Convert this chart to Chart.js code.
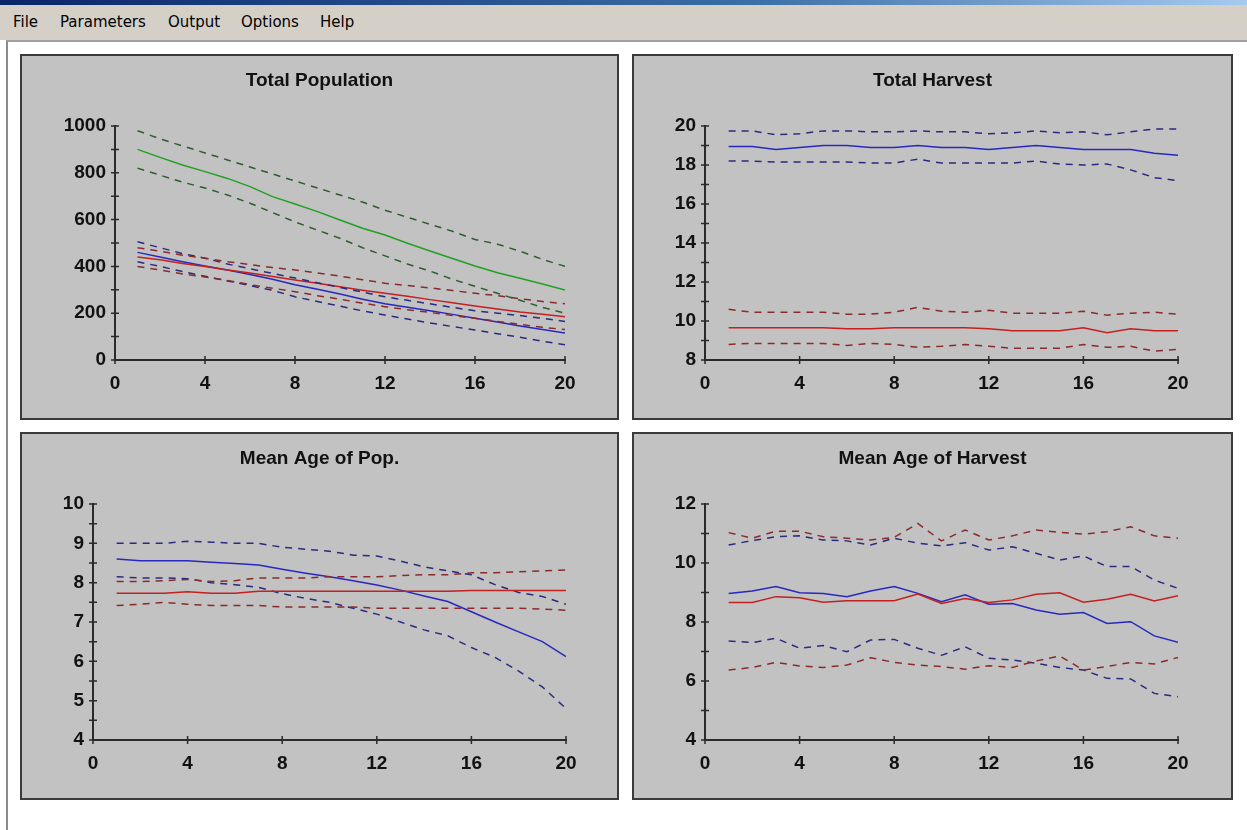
<!DOCTYPE html>
<html>
<head>
<meta charset="utf-8">
<script src="https://cdn.jsdelivr.net/npm/chart.js@4/dist/chart.umd.min.js"></script>
<style>
body { margin: 0; width: 1247px; height: 830px; background: #fff; position: relative; overflow: hidden; font-family: "DejaVu Sans", sans-serif; }
#titlebar { position: absolute; left: 0; top: 0; width: 1247px; height: 5px; background: linear-gradient(to right, #0a246a, #3a6ea5 60%, #a6caf0); }
#menu { position: absolute; left: 0; top: 5px; width: 1247px; height: 35px; background: #d4d0c8; }
#menu span { position: absolute; top: 8px; font-size: 15px; color: #000; }
#client { position: absolute; left: 6px; top: 40px; right: 0; bottom: 0; border-left: 2px solid #8c8c8c; border-top: 2px solid #a0a0a0; background: #fff; }
.panel { position: absolute; box-sizing: border-box; border: 2px solid #3a3a3a; background: #c2c2c2; }
.panel canvas { position: absolute; left: 0; top: 0; }
</style>
</head>
<body>
<div id="titlebar"></div>
<div id="menu">
  <span style="left:13px">File</span>
  <span style="left:60px">Parameters</span>
  <span style="left:168px">Output</span>
  <span style="left:241px">Options</span>
  <span style="left:320px">Help</span>
</div>
<div id="client"></div>

<div class="panel" style="left:20px;top:54px;width:599px;height:366px"><canvas id="c1" width="595" height="362"></canvas></div>
<div class="panel" style="left:632px;top:54px;width:601px;height:366px"><canvas id="c2" width="597" height="362"></canvas></div>
<div class="panel" style="left:20px;top:432px;width:599px;height:368px"><canvas id="c3" width="595" height="364"></canvas></div>
<div class="panel" style="left:632px;top:432px;width:601px;height:368px"><canvas id="c4" width="597" height="364"></canvas></div>

<script>
// years on the x axis
const years = [1,2,3,4,5,6,7,8,9,10,11,12,13,14,15,16,17,18,19,20];

// Total Population
const totPopGreen    = [900,866,833,805,776,741,698,667,634,598,563,534,499,466,434,402,373,349,325,299];
const totPopGreenUp  = [980,945,915,885,855,825,795,765,735,705,675,640,610,580,550,515,495,465,430,400];
const totPopGreenLow = [820,790,760,735,705,670,630,590,555,520,480,445,410,380,345,315,285,255,225,200];
const totPopRed      = [440,428,412,400,385,372,357,342,328,313,298,285,272,258,245,231,218,205,195,185];
const totPopRedUp    = [480,465,448,435,420,408,395,385,372,358,343,328,318,308,297,285,275,262,250,240];
const totPopRedLow   = [400,385,368,355,340,322,307,292,275,260,243,228,215,203,190,178,165,152,140,130];
const totPopBlue     = [460,440,420,402,385,365,345,322,302,282,260,240,225,210,195,178,162,145,130,115];
const totPopBlueUp   = [505,480,455,435,410,390,370,350,330,310,290,270,255,240,225,210,200,190,178,165];
const totPopBlueLow  = [420,400,378,358,338,318,298,270,250,230,210,192,175,158,143,128,112,97,80,65];

// Total Harvest
const harvBlue    = [18.95,18.95,18.8,18.9,19.0,19.0,18.9,18.9,19.0,18.9,18.9,18.8,18.9,19.0,18.9,18.8,18.8,18.8,18.6,18.5];
const harvBlueUp  = [19.75,19.75,19.55,19.6,19.75,19.75,19.7,19.7,19.75,19.7,19.7,19.6,19.65,19.75,19.65,19.7,19.55,19.7,19.85,19.85];
const harvBlueLow = [18.2,18.2,18.15,18.15,18.15,18.15,18.1,18.1,18.3,18.1,18.1,18.1,18.1,18.2,18.05,18.0,18.05,17.75,17.35,17.2];
const harvRed     = [9.65,9.65,9.65,9.65,9.65,9.6,9.6,9.65,9.65,9.65,9.65,9.6,9.5,9.5,9.5,9.65,9.4,9.6,9.5,9.5];
const harvRedUp   = [10.6,10.45,10.45,10.45,10.45,10.35,10.35,10.45,10.7,10.5,10.45,10.55,10.4,10.4,10.4,10.5,10.3,10.4,10.45,10.35];
const harvRedLow  = [8.8,8.85,8.85,8.85,8.85,8.75,8.85,8.8,8.65,8.7,8.8,8.7,8.6,8.6,8.6,8.8,8.65,8.7,8.45,8.55];

// Mean Age of Pop.
const agePopBlue    = [8.6,8.56,8.56,8.56,8.52,8.49,8.45,8.34,8.24,8.15,8.05,7.94,7.81,7.66,7.52,7.26,7.0,6.75,6.5,6.12];
const agePopBlueUp  = [9.0,9.0,9.0,9.05,9.03,9.0,9.0,8.9,8.85,8.8,8.7,8.68,8.55,8.4,8.3,8.2,7.95,7.75,7.65,7.45];
const agePopBlueLow = [8.15,8.12,8.12,8.1,8.0,7.95,7.88,7.72,7.6,7.5,7.35,7.2,7.0,6.8,6.65,6.35,6.1,5.75,5.35,4.8];
const agePopRed     = [7.73,7.73,7.73,7.77,7.73,7.73,7.78,7.78,7.78,7.78,7.78,7.78,7.78,7.78,7.78,7.8,7.8,7.8,7.8,7.8];
const agePopRedUp   = [8.03,8.03,8.05,8.08,8.03,8.05,8.12,8.12,8.12,8.15,8.15,8.15,8.18,8.2,8.2,8.25,8.25,8.28,8.3,8.32];
const agePopRedLow  = [7.42,7.45,7.5,7.45,7.42,7.42,7.42,7.38,7.38,7.38,7.38,7.35,7.35,7.35,7.35,7.35,7.35,7.35,7.33,7.3];

// Mean Age of Harvest
const ageHarvBlue    = [8.97,9.05,9.2,8.99,8.97,8.86,9.05,9.2,8.97,8.69,8.92,8.6,8.63,8.41,8.26,8.32,7.95,8.01,7.53,7.31];
const ageHarvBlueUp  = [10.61,10.76,10.89,10.92,10.78,10.75,10.61,10.84,10.67,10.58,10.69,10.44,10.55,10.33,10.1,10.24,9.88,9.88,9.42,9.14];
const ageHarvBlueLow = [7.36,7.3,7.45,7.11,7.2,6.99,7.39,7.41,7.11,6.87,7.16,6.77,6.71,6.6,6.46,6.37,6.09,6.07,5.58,5.47];
const ageHarvRed     = [8.66,8.66,8.86,8.82,8.67,8.72,8.72,8.72,8.95,8.63,8.8,8.66,8.75,8.94,8.99,8.67,8.77,8.94,8.71,8.89];
const ageHarvRedUp   = [11.03,10.84,11.08,11.08,10.89,10.84,10.78,10.87,11.34,10.75,11.12,10.78,10.92,11.12,11.04,10.98,11.06,11.23,10.92,10.84];
const ageHarvRedLow  = [6.37,6.46,6.63,6.51,6.46,6.54,6.79,6.63,6.54,6.49,6.4,6.52,6.46,6.68,6.85,6.37,6.49,6.63,6.58,6.8];

const GREEN = '#22a022', GREEN_D = '#2e5e2e';
const RED = '#c42020', RED_D = '#8a2a2a';
const BLUE = '#2828c0', BLUE_D = '#2a2a80';

// tick marks that cross the axis line, like the old plot
const crossTicks = {
  id: 'crossTicks',
  afterDraw(chart) {
    const { ctx, scales: { x, y } } = chart;
    ctx.save();
    ctx.strokeStyle = '#2a2a2a';
    ctx.lineWidth = 1.5;
    ctx.beginPath();
    x.ticks.forEach(t => {
      const px = x.getPixelForValue(t.value);
      ctx.moveTo(px, x.top - 4);
      ctx.lineTo(px, x.top + 4);
    });
    y.ticks.forEach(t => {
      const py = y.getPixelForValue(t.value);
      ctx.moveTo(y.right - 4, py);
      ctx.lineTo(y.right + 4, py);
    });
    ctx.stroke();
    ctx.restore();
  }
};

function line(vals, color, dashed) {
  return {
    data: years.map((x, i) => ({ x: x, y: vals[i] })),
    borderColor: color,
    borderWidth: 1.5,
    borderDash: dashed ? [7, 6] : [],
    pointRadius: 0,
    tension: 0,
    fill: false
  };
}

const tickFont = { family: '"Liberation Sans", Arial, sans-serif', size: 19, weight: 'bold' };

function makeChart(id, title, yMin, yMax, yStep, labelStep, datasets, area) {
  const cv = document.getElementById(id);
  return new Chart(cv, {
    type: 'line',
    data: { datasets: datasets },
    plugins: [crossTicks],
    options: {
      responsive: false,
      animation: false,
      events: [],
      layout: { padding: 0 },
      plugins: {
        legend: { display: false },
        tooltip: { enabled: false },
        title: {
          display: true,
          text: title,
          color: '#111',
          font: { family: '"Liberation Sans", Arial, sans-serif', size: 19, weight: 'bold', lineHeight: 1.2 },
          padding: { top: 13, bottom: area.top - 13 - 19 * 1.2 }
        }
      },
      scales: {
        x: {
          type: 'linear', min: 0, max: 20,
          grid: { display: false, drawTicks: false },
          border: { display: true, color: '#2a2a2a', width: 2 },
          ticks: { stepSize: 4, color: '#111', font: tickFont, padding: 12, maxRotation: 0, autoSkip: false },
          afterFit: s => { s.height = cv.height - area.bottom; }
        },
        y: {
          min: yMin, max: yMax,
          grid: { display: false, drawTicks: false },
          border: { display: true, color: '#2a2a2a', width: 2 },
          ticks: {
            stepSize: yStep, color: '#111', font: tickFont, padding: 9, autoSkip: false,
            callback: v => (Math.abs(v / labelStep - Math.round(v / labelStep)) < 1e-6 ? v : '')
          },
          afterFit: s => { s.width = area.left; }
        },
        // empty right-hand spacer so the title stays centred on the whole panel
        yr: {
          position: 'right',
          grid: { display: false, drawTicks: false },
          border: { display: false },
          ticks: { display: false },
          afterFit: s => { s.width = cv.width - area.right; }
        }
      }
    }
  });
}

makeChart('c1', 'Total Population', 0, 1000, 100, 200, [
  line(totPopGreenUp, GREEN_D, true), line(totPopGreen, GREEN, false), line(totPopGreenLow, GREEN_D, true),
  line(totPopRedUp, RED_D, true), line(totPopRedLow, RED_D, true),
  line(totPopBlueUp, BLUE_D, true), line(totPopBlueLow, BLUE_D, true),
  line(totPopRed, RED, false), line(totPopBlue, BLUE, false)
], { left: 93, right: 543, top: 70, bottom: 304 });

makeChart('c2', 'Total Harvest', 8, 20, 1, 2, [
  line(harvBlueUp, BLUE_D, true), line(harvBlue, BLUE, false), line(harvBlueLow, BLUE_D, true),
  line(harvRedUp, RED_D, true), line(harvRed, RED, false), line(harvRedLow, RED_D, true)
], { left: 71, right: 544, top: 70, bottom: 304 });

makeChart('c3', 'Mean Age of Pop.', 4, 10, 0.5, 1, [
  line(agePopRedUp, RED_D, true), line(agePopRed, RED, false), line(agePopRedLow, RED_D, true),
  line(agePopBlueUp, BLUE_D, true), line(agePopBlue, BLUE, false), line(agePopBlueLow, BLUE_D, true)
], { left: 71, right: 544, top: 70, bottom: 306 });

makeChart('c4', 'Mean Age of Harvest', 4, 12, 1, 2, [
  line(ageHarvRedUp, RED_D, true), line(ageHarvRed, RED, false), line(ageHarvRedLow, RED_D, true),
  line(ageHarvBlueUp, BLUE_D, true), line(ageHarvBlue, BLUE, false), line(ageHarvBlueLow, BLUE_D, true)
], { left: 71, right: 544, top: 70, bottom: 306 });
</script>
</body>
</html>
